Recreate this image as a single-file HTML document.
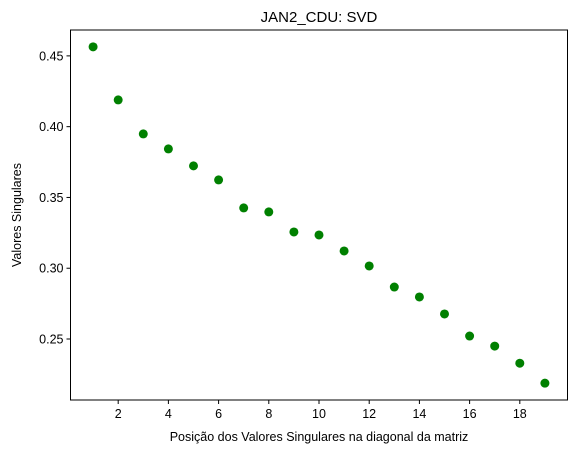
<!DOCTYPE html>
<html><head><meta charset="utf-8"><style>body{margin:0;background:#fff}svg{display:block;font-family:"Liberation Sans","DejaVu Sans",sans-serif}</style></head>
<body>
<svg id="c" width="576" height="453"></svg>
<script>
const xValues=[1,2,3,4,5,6,7,8,9,10,11,12,13,14,15,16,17,18,19];
const yValues=[0.4564,0.4189,0.3949,0.3843,0.3723,0.3624,0.3426,0.3398,0.3256,0.3235,0.3122,0.3016,0.2867,0.2797,0.2677,0.2521,0.2450,0.2329,0.2188];
const xTicks=[2,4,6,8,10,12,14,16,18];
const yTicks=[0.25,0.30,0.35,0.40,0.45];
const yTickLabels=["0.25","0.30","0.35","0.40","0.45"];
const L=70.5,R=567.5,T=30,B=400;
const ns="http://www.w3.org/2000/svg",svg=document.getElementById('c');
const x0=1-0.9,x1=19+0.9;
const ymin=Math.min(...yValues),ymax=Math.max(...yValues),m=(ymax-ymin)*0.05;
const y0=ymin-m,y1=ymax+m;
const sx=v=>L+(v-x0)/(x1-x0)*(R-L), sy=v=>B-(v-y0)/(y1-y0)*(B-T);
function mk(t,a,txt){const e=document.createElementNS(ns,t);for(const k in a)e.setAttribute(k,a[k]);if(txt!==undefined)e.textContent=txt;svg.appendChild(e);return e;}
const fr=mk('rect',{x:L,y:T,width:R-L,height:B-T,fill:'none',stroke:'#000','stroke-width':1});


xTicks.forEach(v=>{const p=sx(v);
const l=mk('line',{x1:p,x2:p,y1:B,y2:B+4,stroke:'#000'});


const t=mk('text',{x:p,y:B+18,'font-size':12.5,'text-anchor':'middle'},String(v));

});
yTicks.forEach((v,i)=>{const p=sy(v);
const l=mk('line',{x1:L-4,x2:L,y1:p,y2:p,stroke:'#000'});


const t=mk('text',{x:L-7,y:p+4.5,'font-size':12.5,'text-anchor':'end'},yTickLabels[i]);

});
xValues.forEach((v,i)=>{const c=mk('circle',{cx:sx(v),cy:sy(yValues[i]),r:4.5,fill:'#008000'});

});
const tt=mk('text',{x:(L+R)/2,y:22,'font-size':15,'text-anchor':'middle'},'JAN2_CDU: SVD');


const xt=mk('text',{x:(L+R)/2,y:441,'font-size':12.5,'text-anchor':'middle'},'Posição dos Valores Singulares na diagonal da matriz');


const yt=mk('text',{x:0,y:0,'font-size':12.5,'text-anchor':'middle',transform:`translate(21,${(T+B)/2}) rotate(-90)`},'Valores Singulares');


</script>
</body></html>
